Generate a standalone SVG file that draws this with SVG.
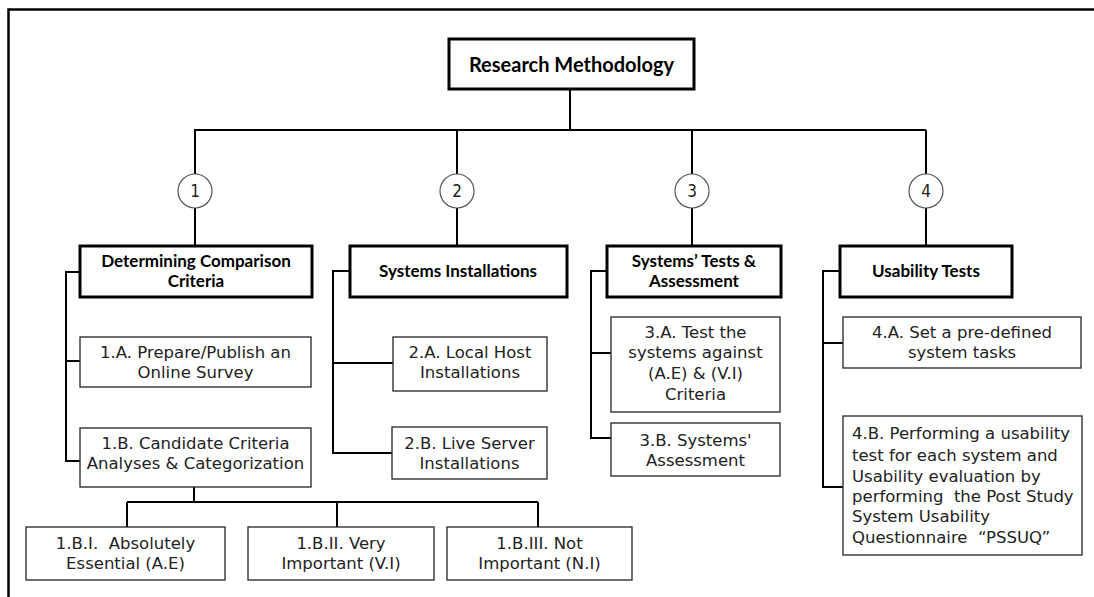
<svg xmlns="http://www.w3.org/2000/svg" width="1094" height="597" viewBox="0 0 1094 597">
<style>
.frame{fill:none;stroke:#000;stroke-width:2.5}
.con{fill:none;stroke:#000;stroke-width:2}
.main{fill:#fff;stroke:#000;stroke-width:3}
.sub{fill:#fff;stroke:#333;stroke-width:1.4}
.circ{fill:#fff;stroke:#555;stroke-width:1.2}
.b{font-family:Lato,"Liberation Sans",sans-serif;font-weight:bold;fill:#000;text-anchor:middle}
.t{font-family:"DejaVu Sans","Liberation Sans",sans-serif;font-size:16.5px;fill:#222;text-anchor:middle}
.n{font-family:"DejaVu Sans Condensed","DejaVu Sans",sans-serif;font-size:17px;fill:#222;text-anchor:middle}
.l{font-family:"DejaVu Sans","Liberation Sans",sans-serif;font-size:16.5px;fill:#222;text-anchor:start}
</style>
<path class="frame" d="M8.5,597 V9.5 H1094"/>
<g id="connectors">
<path class="con" d="M570,89 V130 M194,130 H926 M195,130 V174 M457,130 V174 M692,130 V174 M926,130 V174"/>
<path class="con" d="M195,208 V246 M457,208 V246 M692,208 V246 M926,208 V246"/>
<path class="con" d="M80,272 H66 V461 H80 M66,361 H80"/>
<path class="con" d="M194,487 V502 M127,502 H538 M127,502 V527 M337,502 V527 M538,502 V527"/>
<path class="con" d="M350,271 H333 V453 H392 M333,363 H393"/>
<path class="con" d="M607,271 H591 V438 H611 M591,353 H611"/>
<path class="con" d="M840,271 H823 V487 H843 M823,343 H843"/>
</g>
<g id="root"><rect class="main" x="449" y="39" width="245" height="50"/><text class="b" x="571.5" y="72" font-size="20">Research Methodology</text></g>
<g id="c1"><circle class="circ" cx="195" cy="191" r="17"/><text class="n" x="195" y="197">1</text></g>
<g id="c2"><circle class="circ" cx="457" cy="191" r="17"/><text class="n" x="457" y="197">2</text></g>
<g id="c3"><circle class="circ" cx="692" cy="191" r="17"/><text class="n" x="692" y="197">3</text></g>
<g id="c4"><circle class="circ" cx="926" cy="191" r="17"/><text class="n" x="926" y="197">4</text></g>
<g id="n1"><rect class="main" x="80" y="246" width="232" height="51"/><text class="b" font-size="17"><tspan x="196" y="267">Determining Comparison</tspan><tspan x="196" y="287">Criteria</tspan></text></g>
<g id="n2"><rect class="main" x="350" y="246" width="217" height="51"/><text class="b" font-size="17" x="458" y="277">Systems Installations</text></g>
<g id="n3"><rect class="main" x="607" y="246" width="174" height="51"/><text class="b" font-size="17"><tspan x="694" y="267">Systems’ Tests &amp;</tspan><tspan x="694" y="287">Assessment</tspan></text></g>
<g id="n4"><rect class="main" x="840" y="246" width="172" height="51"/><text class="b" font-size="17" x="926" y="277">Usability Tests</text></g>
<g id="n1a"><rect class="sub" x="80" y="337" width="231" height="50"/><text class="t"><tspan x="195.5" y="358">1.A. Prepare/Publish an</tspan><tspan x="195.5" y="378">Online Survey</tspan></text></g>
<g id="n1b"><rect class="sub" x="80" y="428" width="231" height="59"/><text class="t"><tspan x="195.5" y="449">1.B. Candidate Criteria</tspan><tspan x="195.5" y="469">Analyses &amp; Categorization</tspan></text></g>
<g id="n1b1"><rect class="sub" x="26" y="527" width="199" height="53"/><text class="t"><tspan x="125.5" y="549" xml:space="preserve">1.B.I.  Absolutely</tspan><tspan x="125.5" y="569">Essential (A.E)</tspan></text></g>
<g id="n1b2"><rect class="sub" x="248" y="527" width="186" height="53"/><text class="t"><tspan x="341" y="549">1.B.II. Very</tspan><tspan x="341" y="569">Important (V.I)</tspan></text></g>
<g id="n1b3"><rect class="sub" x="447" y="527" width="185" height="53"/><text class="t"><tspan x="539.5" y="549">1.B.III. Not</tspan><tspan x="539.5" y="569">Important (N.I)</tspan></text></g>
<g id="n2a"><rect class="sub" x="393" y="337" width="154" height="54"/><text class="t"><tspan x="470" y="358">2.A. Local Host</tspan><tspan x="470" y="378">Installations</tspan></text></g>
<g id="n2b"><rect class="sub" x="392" y="427" width="155" height="52"/><text class="t"><tspan x="469.5" y="449">2.B. Live Server</tspan><tspan x="469.5" y="469">Installations</tspan></text></g>
<g id="n3a"><rect class="sub" x="611" y="317" width="169" height="95"/><text class="t"><tspan x="695.5" y="338">3.A. Test the</tspan><tspan x="695.5" y="358">systems against</tspan><tspan x="695.5" y="379">(A.E) &amp; (V.I)</tspan><tspan x="695.5" y="400">Criteria</tspan></text></g>
<g id="n3b"><rect class="sub" x="611" y="423" width="169" height="53"/><text class="t"><tspan x="695.5" y="446">3.B. Systems'</tspan><tspan x="695.5" y="466">Assessment</tspan></text></g>
<g id="n4a"><rect class="sub" x="843" y="317" width="238" height="51"/><text class="t"><tspan x="962" y="338">4.A. Set a pre-defined</tspan><tspan x="962" y="358">system tasks</tspan></text></g>
<g id="n4b"><rect class="sub" x="843" y="416" width="239" height="139"/><text class="l" xml:space="preserve"><tspan x="852" y="439">4.B. Performing a usability</tspan><tspan x="852" y="461">test for each system and</tspan><tspan x="852" y="482">Usability evaluation by</tspan><tspan x="852" y="502">performing  the Post Study</tspan><tspan x="852" y="522">System Usability</tspan><tspan x="852" y="543">Questionnaire  “PSSUQ”</tspan></text></g>
</svg>
